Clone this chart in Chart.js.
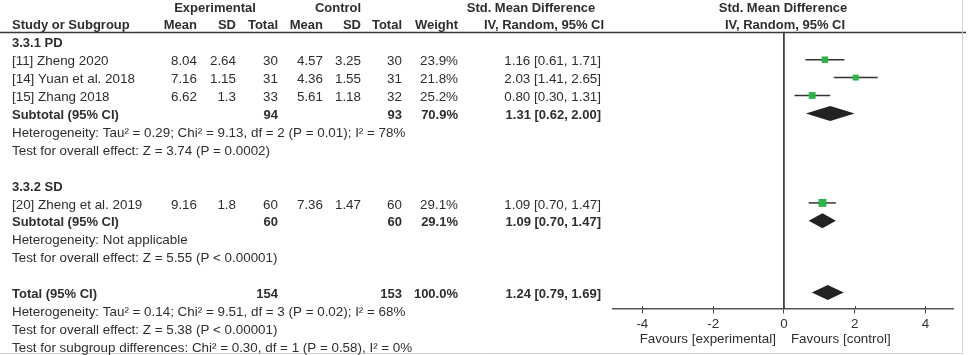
<!DOCTYPE html>
<html lang="en">
<head>
  <meta charset="UTF-8">
  <title>Forest plot</title>
  <style>
    body {
      margin: 0;
      padding: 0;
      background-color: #ffffff;
    }
    .chart-container {
      position: relative;
      width: 969px;
      height: 355px;
    }
  </style>
</head>
<body>
  <div class="chart-container">
    <canvas id="forestChart"></canvas>
  </div>

  <script src="https://cdn.jsdelivr.net/npm/chart.js"></script>
  <script>
    // study rows
    const studies = ['[11] Zheng 2020', '[14] Yuan et al. 2018', '[15] Zhang 2018', '[20] Zheng et al. 2019'];
    const studyRows = [3, 4, 5, 11];
    const expMean = ['8.04', '7.16', '6.62', '9.16'];
    const expSD = ['2.64', '1.15', '1.3', '1.8'];
    const expTotal = [30, 31, 33, 60];
    const ctrlMean = ['4.57', '4.36', '5.61', '7.36'];
    const ctrlSD = ['3.25', '1.55', '1.18', '1.47'];
    const ctrlTotal = [30, 31, 32, 60];
    const weights = [23.9, 21.8, 25.2, 29.1];
    const smd = [1.16, 2.03, 0.80, 1.09];
    const ciLow = [0.61, 1.41, 0.30, 0.70];
    const ciHigh = [1.71, 2.65, 1.31, 1.47];

    // subtotals and total
    const pooledLabels = ['Subtotal (95% CI)', 'Subtotal (95% CI)', 'Total (95% CI)'];
    const pooledRows = [6, 12, 16];
    const pooledExpTotal = [94, 60, 154];
    const pooledCtrlTotal = [93, 60, 153];
    const pooledWeight = [70.9, 29.1, 100.0];
    const pooledEst = [1.31, 1.09, 1.24];
    const pooledLow = [0.62, 0.70, 0.79];
    const pooledHigh = [2.00, 1.47, 1.69];

    const groupLabels = ['3.3.1 PD', '3.3.2 SD'];
    const groupRows = [2, 10];

    const noteLines = [
      'Heterogeneity: Tau\u00b2 = 0.29; Chi\u00b2 = 9.13, df = 2 (P = 0.01); I\u00b2 = 78%',
      'Test for overall effect: Z = 3.74 (P = 0.0002)',
      'Heterogeneity: Not applicable',
      'Test for overall effect: Z = 5.55 (P < 0.00001)',
      'Heterogeneity: Tau\u00b2 = 0.14; Chi\u00b2 = 9.51, df = 3 (P = 0.02); I\u00b2 = 68%',
      'Test for overall effect: Z = 5.38 (P < 0.00001)',
      'Test for subgroup differences: Chi\u00b2 = 0.30, df = 1 (P = 0.58), I\u00b2 = 0%'
    ];
    const noteRows = [7, 8, 13, 14, 17, 18, 19];

    const xTicks = [-4, -2, 0, 2, 4];
    const axisRow = 16.93;
    const headerRow = 1.45;

    const textColor = '#2e2e2e';
    const regular = '13.4px "Liberation Sans", Arial, sans-serif';
    const bold = 'bold 13px "Liberation Sans", Arial, sans-serif';

    // confidence interval lines, one dataset each
    const ciSets = studies.map((s, i) => ({
      type: 'line',
      order: 2,
      data: [{ x: ciLow[i], y: studyRows[i] }, { x: ciHigh[i], y: studyRows[i] }],
      borderColor: '#333333',
      borderWidth: 1.5,
      pointRadius: 0,
      fill: false
    }));

    const forestPlugin = {
      id: 'forestText',
      afterDatasetsDraw(chart) {
        const ctx = chart.ctx;
        const xs = chart.scales.x;
        const ys = chart.scales.y;
        const rowY = r => ys.getPixelForValue(r) + 2;

        // diamonds for pooled estimates
        ctx.save();
        ctx.fillStyle = '#222222';
        pooledEst.forEach((e, i) => {
          const cy = ys.getPixelForValue(pooledRows[i]);
          ctx.beginPath();
          ctx.moveTo(xs.getPixelForValue(pooledLow[i]), cy);
          ctx.lineTo(xs.getPixelForValue(e), cy - 7.5);
          ctx.lineTo(xs.getPixelForValue(pooledHigh[i]), cy);
          ctx.lineTo(xs.getPixelForValue(e), cy + 7.5);
          ctx.closePath();
          ctx.fill();
        });

        // header rule and frame
        const hy = Math.round(ys.getPixelForValue(headerRow)) + 0.5;
        ctx.strokeStyle = '#3a3a3a';
        ctx.lineWidth = 1.5;
        ctx.beginPath();
        ctx.moveTo(0, hy);
        ctx.lineTo(966, hy);
        ctx.stroke();
        ctx.strokeStyle = '#d0d0d0';
        ctx.lineWidth = 1;
        ctx.beginPath();
        ctx.moveTo(962.5, 0);
        ctx.lineTo(962.5, 353.5);
        ctx.lineTo(0, 353.5);
        ctx.stroke();

        ctx.fillStyle = textColor;
        ctx.textBaseline = 'middle';

        function put(t, x, y, align, font) {
          ctx.font = font || regular;
          ctx.textAlign = align;
          ctx.fillText(String(t), x, y);
        }

        // column headers
        put('Experimental', 215, rowY(0), 'center', bold);
        put('Control', 338, rowY(0), 'center', bold);
        put('Std. Mean Difference', 531, rowY(0), 'center', bold);
        put('Std. Mean Difference', 783, rowY(0), 'center', bold);
        put('Study or Subgroup', 12, rowY(1), 'left', bold);
        put('Mean', 197, rowY(1), 'right', bold);
        put('SD', 236, rowY(1), 'right', bold);
        put('Total', 278, rowY(1), 'right', bold);
        put('Mean', 323, rowY(1), 'right', bold);
        put('SD', 361, rowY(1), 'right', bold);
        put('Total', 402, rowY(1), 'right', bold);
        put('Weight', 458, rowY(1), 'right', bold);
        put('IV, Random, 95% CI', 544, rowY(1), 'center', bold);
        put('IV, Random, 95% CI', 785, rowY(1), 'center', bold);

        groupLabels.forEach((g, i) => put(g, 12, rowY(groupRows[i]), 'left', bold));

        studies.forEach((s, i) => {
          const y = rowY(studyRows[i]);
          put(s, 12, y, 'left');
          put(expMean[i], 197, y, 'right');
          put(expSD[i], 236, y, 'right');
          put(expTotal[i], 278, y, 'right');
          put(ctrlMean[i], 323, y, 'right');
          put(ctrlSD[i], 361, y, 'right');
          put(ctrlTotal[i], 402, y, 'right');
          put(weights[i].toFixed(1) + '%', 458, y, 'right');
          put(smd[i].toFixed(2) + ' [' + ciLow[i].toFixed(2) + ', ' + ciHigh[i].toFixed(2) + ']', 601, y, 'right');
        });

        pooledLabels.forEach((p, i) => {
          const y = rowY(pooledRows[i]);
          put(p, 12, y, 'left', bold);
          put(pooledExpTotal[i], 278, y, 'right', bold);
          put(pooledCtrlTotal[i], 402, y, 'right', bold);
          put(pooledWeight[i].toFixed(1) + '%', 458, y, 'right', bold);
          put(pooledEst[i].toFixed(2) + ' [' + pooledLow[i].toFixed(2) + ', ' + pooledHigh[i].toFixed(2) + ']', 601, y, 'right', bold);
        });

        noteLines.forEach((n, i) => put(n, 12, rowY(noteRows[i]), 'left'));

        // favours labels under the axis
        const zx = xs.getPixelForValue(0);
        put('Favours [experimental]', zx - 8, 339, 'right');
        put('Favours [control]', zx + 7, 339, 'left');

        // small tick marks above the axis line
        const ay = ys.getPixelForValue(axisRow);
        ctx.strokeStyle = '#444444';
        ctx.lineWidth = 1;
        ctx.beginPath();
        xTicks.forEach(t => {
          const tx = Math.round(xs.getPixelForValue(t)) + 0.5;
          ctx.moveTo(tx, ay - 3);
          ctx.lineTo(tx, ay);
        });
        ctx.stroke();
        ctx.restore();
      }
    };

    const ctx = document.getElementById('forestChart').getContext('2d');
    const forestChart = new Chart(ctx, {
      type: 'scatter',
      data: {
        datasets: [
          {
            order: 0,
            data: studies.map((s, i) => ({ x: smd[i], y: studyRows[i] })),
            pointStyle: 'rect',
            pointRadius: weights.map(w => w / 5.2),
            backgroundColor: '#2cb34a',
            borderColor: '#2cb34a',
            borderWidth: 0
          },
          {
            type: 'line',
            order: 3,
            data: [{ x: 0, y: headerRow }, { x: 0, y: axisRow }],
            borderColor: '#3a3a3a',
            borderWidth: 1,
            pointRadius: 0,
            fill: false
          },
          ...ciSets
        ]
      },
      options: {
        responsive: true,
        maintainAspectRatio: false,
        animation: false,
        layout: { autoPadding: false, padding: { left: 613, right: 16, top: 0, bottom: 0 } },
        plugins: {
          legend: { display: false },
          tooltip: { enabled: false }
        },
        scales: {
          x: {
            type: 'linear',
            min: -4.83,
            max: 4.78,
            position: { y: axisRow },
            afterBuildTicks: scale => { scale.ticks = xTicks.map(v => ({ value: v })); },
            grid: { drawOnChartArea: false, tickLength: 4, color: '#444444' },
            border: { color: '#555555', width: 1.5 },
            ticks: {
              color: '#333333',
              font: { family: '"Liberation Sans", Arial, sans-serif', size: 13.4 },
              padding: 3
            }
          },
          y: {
            type: 'linear',
            display: false,
            reverse: true,
            min: -0.335,
            max: 19.497
          }
        }
      },
      plugins: [forestPlugin]
    });
  </script>
</body>
</html>
